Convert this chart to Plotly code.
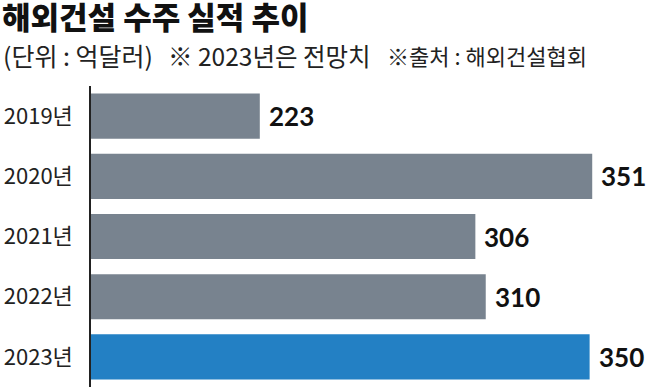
import plotly.graph_objects as go

years = ["2019년", "2020년", "2021년", "2022년", "2023년"]
values = [223, 351, 306, 310, 350]
colors = ["#78838f", "#78838f", "#78838f", "#78838f", "#2380c4"]

title = "해외건설 수주 실적 추이"
unit_note = "(단위 : 억달러)"
forecast_note = "※ 2023년은 전망치"
source_note = "※출처 : 해외건설협회"

W, H = 656, 387
L, T = 91, 86
plot_w = W - L
plot_h = H - T

fig = go.Figure()
fig.add_trace(go.Bar(
    y=years, x=values, orientation="h",
    marker=dict(color=colors, line=dict(width=0)),
    hoverinfo="skip",
))

for yr, v in zip(years, values):
    fig.add_annotation(
        x=v, y=yr, xref="x", yref="y", text=str(v), showarrow=False,
        xanchor="left", yanchor="middle", xshift=7,
        font=dict(family="Lato", size=26, color="#111111", weight="bold"),
    )

def px_x(p):
    return (p - L) / plot_w

def px_y(p):
    return (H - p) / plot_h

fam = "Noto Sans CJK KR"
fig.add_annotation(x=px_x(1), y=px_y(55), xref="paper", yref="paper", text=unit_note,
                   showarrow=False, xanchor="left", yanchor="middle",
                   font=dict(family=fam, size=25, color="#222222"))
fig.add_annotation(x=px_x(166), y=px_y(55), xref="paper", yref="paper", text=forecast_note,
                   showarrow=False, xanchor="left", yanchor="middle",
                   font=dict(family=fam, size=24.5, color="#222222"))
fig.add_annotation(x=px_x(385), y=px_y(55), xref="paper", yref="paper", text=source_note,
                   showarrow=False, xanchor="left", yanchor="middle",
                   font=dict(family=fam, size=22, color="#222222"))

fig.update_layout(
    width=W, height=H,
    margin=dict(l=L, r=0, t=T, b=0, autoexpand=False),
    paper_bgcolor="white", plot_bgcolor="white",
    bargap=0.25,
    showlegend=False,
    title=dict(text=title, x=2 / W, xanchor="left", xref="container",
               y=1 - 18 / H, yanchor="middle", yref="container",
               font=dict(family=fam, size=31, color="#111111", weight=900)),
    xaxis=dict(range=[158, 158 + plot_w / 2.597], visible=False, fixedrange=True),
    yaxis=dict(autorange="reversed", showline=True, linecolor="#222222", linewidth=1.5,
               ticks="", showgrid=False, zeroline=False, ticklabelstandoff=12,
               tickfont=dict(family=fam, size=22, color="#222222")),
)

fig.write_html("out.html", config={"displayModeBar": False},
               post_script="document.body.style.margin='0px';")
